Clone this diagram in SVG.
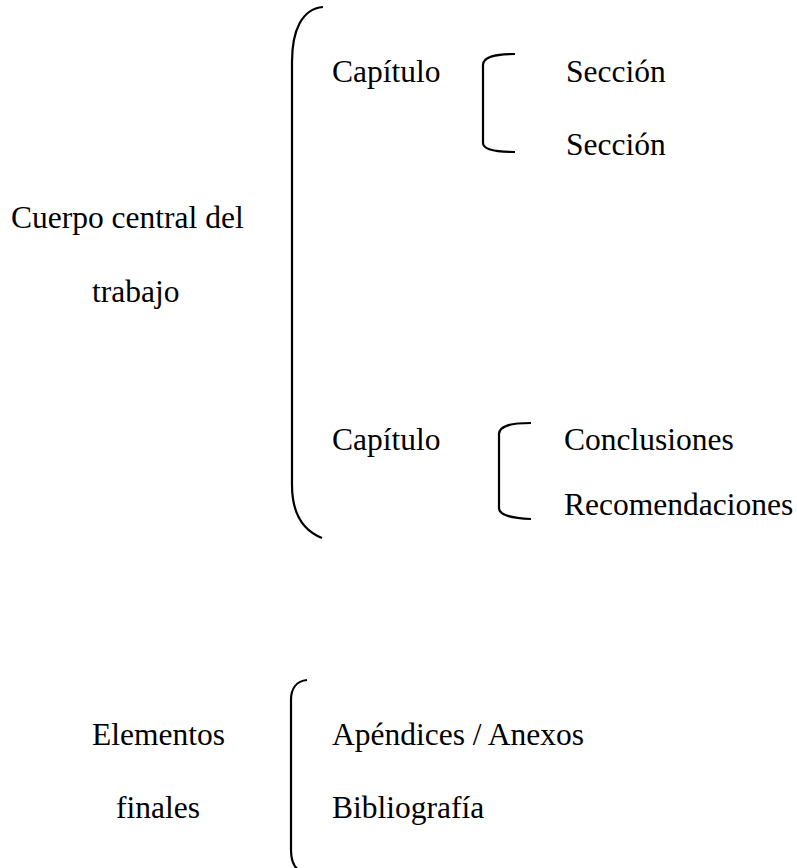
<svg xmlns="http://www.w3.org/2000/svg" width="797" height="868" viewBox="0 0 797 868">
<style>
.t{font-family:'Liberation Serif','Times New Roman',Times,'DejaVu Serif',serif;font-size:31.5px;fill:#000}
.br{fill:none;stroke:#000;stroke-width:2.2;stroke-linecap:butt}
</style>
<rect width="797" height="868" fill="#fff"/>
<g id="connectors">
<path class="br" d="M323,7 C302,9 292,30 292,62 L292,485 C292,512 302,530 322,538"/>
<path class="br" d="M515,54 C494,54 483,57 483,65 L483,143 C483,149 494,152 515,152"/>
<path class="br" d="M531,423 C510,423 499,426 499,434 L499,508 C499,515 510,518 531,519"/>
<path class="br" d="M307,680 C297,681 291,688 291,700 L291,850 C291,865 297,872 307,874"/>
</g>
<g id="cuerpo" class="t" font-family="Liberation Serif, serif"><text x="11" y="228">Cuerpo central del</text><text x="92" y="302">trabajo</text></g>
<g id="capitulo1" class="t" font-family="Liberation Serif, serif"><text x="332" y="82">Capítulo</text></g>
<g id="seccion1" class="t" font-family="Liberation Serif, serif"><text x="566" y="82">Sección</text></g>
<g id="seccion2" class="t" font-family="Liberation Serif, serif"><text x="566" y="155">Sección</text></g>
<g id="capitulo2" class="t" font-family="Liberation Serif, serif"><text x="332" y="450">Capítulo</text></g>
<g id="conclusiones" class="t" font-family="Liberation Serif, serif"><text x="564" y="450">Conclusiones</text></g>
<g id="recomendaciones" class="t" font-family="Liberation Serif, serif"><text x="564" y="515">Recomendaciones</text></g>
<g id="elementos" class="t" font-family="Liberation Serif, serif"><text x="92" y="745">Elementos</text><text x="116" y="818">finales</text></g>
<g id="apendices" class="t" font-family="Liberation Serif, serif"><text x="332" y="745">Apéndices / Anexos</text></g>
<g id="bibliografia" class="t" font-family="Liberation Serif, serif"><text x="332" y="818">Bibliografía</text></g>
</svg>
